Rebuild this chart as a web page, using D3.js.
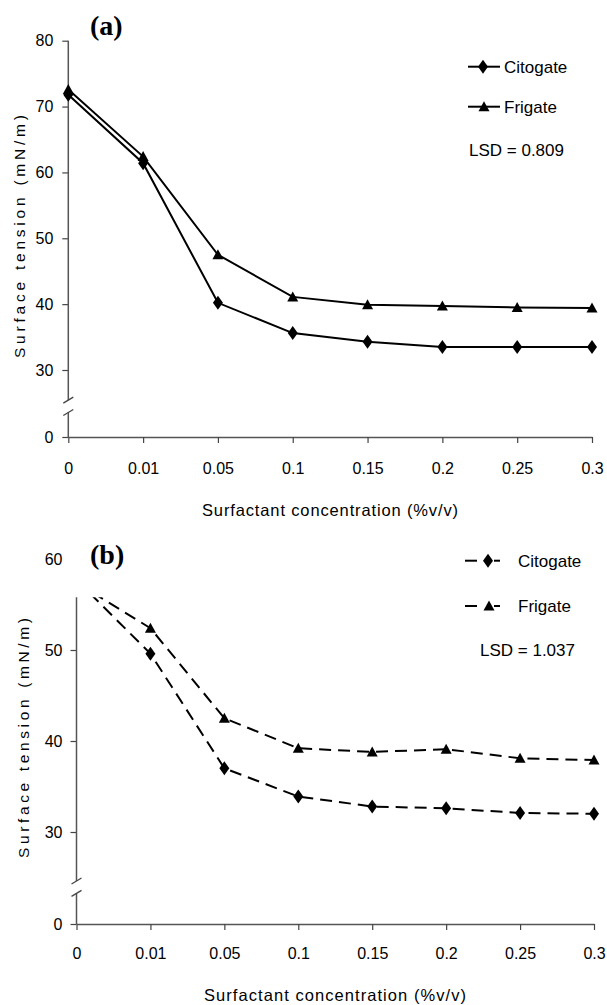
<!DOCTYPE html>
<html>
<head>
<meta charset="utf-8">
<script src="https://cdn.jsdelivr.net/npm/d3@7"></script>
<style>
  body { margin: 0; background: #fff; }
  svg { display: block; }
  text { font-family: Arial, "Liberation Sans", sans-serif; fill: #000; }
</style>
</head>
<body>
<svg id="chart" width="607" height="1005"></svg>
<script>
// x categories (surfactant concentration, % v/v)
const xLabels = ["0", "0.01", "0.05", "0.1", "0.15", "0.2", "0.25", "0.3"];

// surface tension (mN/m), panel (a)
const citogateA = [71.8, 61.4, 40.2, 35.6, 34.3, 33.5, 33.5, 33.5];
const frigateA = [72.6, 62.4, 47.5, 41.1, 39.9, 39.7, 39.5, 39.4];

// surface tension (mN/m), panel (b)
const citogateB = [57.7, 49.6, 37.0, 33.9, 32.8, 32.6, 32.1, 32.0];
const frigateB = [57.4, 52.4, 42.5, 39.2, 38.8, 39.1, 38.1, 37.9];

// y tick labels
const yTicksA = [0, 30, 40, 50, 60, 70, 80];
const yTicksB = [0, 30, 40, 50, 60];

const seriesNames = ["Citogate", "Frigate"];

const svg = d3.select("#chart");

// custom marker shapes: tall diamond and triangle
const diamond = "M0,-7L5,0L0,7L-5,0Z";
const triangle = "M0,-5.5L5.5,4.5L-5.5,4.5Z";

function drawPanel(cfg) {
    const g = svg.append("g");

    const x = d3.scalePoint().domain(xLabels).range([cfg.x0, cfg.x1]);
    // broken axis: 0..30 squeezed into one interval
    const y = d3.scaleLinear().domain(cfg.yDomain).range(cfg.yRange);

    // y axis
    const yAxis = d3.axisLeft(y)
        .tickValues(cfg.yTicks)
        .tickFormat(d3.format("d"))
        .tickSize(6)
        .tickPadding(cfg.yPad);
    const ya = g.append("g")
        .attr("transform", `translate(${cfg.x0},0)`)
        .call(yAxis);
    ya.select(".domain").remove();
    ya.selectAll("line").attr("stroke", "#444").attr("stroke-width", 1.2);
    ya.selectAll("text").style("font-size", "16px");
    ya.selectAll(".tick").filter(d => d > cfg.axisTop).select("line").remove();

    g.append("line")
        .attr("x1", cfg.x0).attr("x2", cfg.x0)
        .attr("y1", y(0)).attr("y2", y(cfg.axisTop))
        .attr("stroke", "#555").attr("stroke-width", 1.5);

    // axis break
    const b0 = y(cfg.breakVals[0]), b1 = y(cfg.breakVals[1]);
    g.append("rect")
        .attr("x", cfg.x0 - 3).attr("y", b1).attr("width", 6).attr("height", b0 - b1)
        .attr("fill", "#fff");
    cfg.breakVals.forEach(v => {
        g.append("line")
            .attr("x1", cfg.x0 - 5).attr("y1", y(v) + 3)
            .attr("x2", cfg.x0 + 5).attr("y2", y(v) - 3)
            .attr("stroke", "#444").attr("stroke-width", 1.3);
    });

    // x axis
    const xAxis = d3.axisBottom(x).tickSize(6).tickSizeOuter(0).tickPadding(cfg.xPad);
    const xa = g.append("g")
        .attr("transform", `translate(0,${y(0)})`)
        .call(xAxis);
    xa.select(".domain").attr("stroke", "#555").attr("stroke-width", 1.5);
    xa.selectAll("line").attr("stroke", "#444").attr("stroke-width", 1.2);
    xa.selectAll("text").style("font-size", "16px");

    // clip for the plot area
    const clipId = "clip" + cfg.id;
    svg.append("clipPath").attr("id", clipId)
        .append("rect")
        .attr("x", 0).attr("y", y(cfg.axisTop))
        .attr("width", 607).attr("height", y(0) - y(cfg.axisTop) + 20);

    const line = d3.line()
        .x((d, i) => x(xLabels[i]))
        .y(d => y(d));

    const plot = g.append("g").attr("clip-path", `url(#${clipId})`);
    const series = [
        { values: cfg.citogate, shape: diamond },
        { values: cfg.frigate, shape: triangle }
    ];
    series.forEach(s => {
        plot.append("path")
            .datum(s.values)
            .attr("d", line)
            .attr("fill", "none")
            .attr("stroke", "#000")
            .attr("stroke-width", 2)
            .attr("stroke-dasharray", cfg.dashed ? "12,7" : null);
        plot.selectAll(null)
            .data(s.values)
            .enter()
            .append("path")
            .attr("d", s.shape)
            .attr("transform", (d, i) => `translate(${x(xLabels[i])},${y(d)})`)
            .attr("fill", "#000");
    });

    // panel title
    g.append("text")
        .attr("x", cfg.titleX).attr("y", cfg.titleY)
        .style("font-family", "'Liberation Serif', 'Times New Roman', serif")
        .style("font-weight", "bold")
        .style("font-size", "28px")
        .text(cfg.title);

    // legend
    seriesNames.forEach((name, i) => {
        const ly = cfg.legendY[i];
        cfg.legendSegs.forEach(seg => {
            g.append("line")
                .attr("x1", seg[0]).attr("x2", seg[1])
                .attr("y1", ly).attr("y2", ly)
                .attr("stroke", "#000").attr("stroke-width", 2);
        });
        g.append("path")
            .attr("d", i === 0 ? diamond : triangle)
            .attr("transform", `translate(${cfg.legendMarkX[i]},${ly})`)
            .attr("fill", "#000");
        g.append("text")
            .attr("x", cfg.legendTextX).attr("y", ly + 6)
            .style("font-size", "17px")
            .text(name);
    });
    g.append("text")
        .attr("x", cfg.lsdX).attr("y", cfg.lsdY + 6)
        .style("font-size", "17px")
        .text(cfg.lsd);

    // axis titles
    g.append("text")
        .attr("x", cfg.xTitleX).attr("y", cfg.xTitleY)
        .attr("text-anchor", "middle")
        .attr("textLength", cfg.xTitleLen)
        .attr("lengthAdjust", "spacing")
        .style("font-size", "16.5px")
        .text("Surfactant concentration (%v/v)");
    g.append("text")
        .attr("transform", `translate(${cfg.yTitleX},${cfg.yTitleY}) rotate(-90)`)
        .attr("text-anchor", "middle")
        .attr("textLength", cfg.yTitleLen)
        .attr("lengthAdjust", "spacing")
        .style("font-size", "15.5px")
        .text("Surface tension (mN/m)");
}

drawPanel({
    id: "a", title: "(a)", titleX: 90, titleY: 35,
    x0: 68.3, x1: 592,
    yDomain: [0, 30, 80], yRange: [437, 370, 40.7],
    yTicks: yTicksA, axisTop: 80, yPad: 9, xPad: 20,
    breakVals: [11, 16.5], dashed: false,
    citogate: citogateA, frigate: frigateA,
    legendY: [66.7, 106.7], legendSegs: [[468, 500]], legendMarkX: [483, 484],
    legendTextX: 504, lsd: "LSD = 0.809", lsdX: 469, lsdY: 150,
    xTitleX: 330, xTitleY: 516, xTitleLen: 256,
    yTitleX: 25, yTitleY: 236.5, yTitleLen: 243
});

drawPanel({
    id: "b", title: "(b)", titleX: 90, titleY: 564,
    x0: 76.5, x1: 594,
    yDomain: [0, 30, 60], yRange: [924, 832, 559],
    yTicks: yTicksB, axisTop: 55.8, yPad: 8, xPad: 18,
    breakVals: [10, 14], dashed: true,
    citogate: citogateB, frigate: frigateB,
    legendY: [560.7, 606], legendSegs: [[465, 477], [494, 500]], legendMarkX: [488, 489],
    legendTextX: 518, lsd: "LSD = 1.037", lsdX: 480, lsdY: 650,
    xTitleX: 335, xTitleY: 1001, xTitleLen: 262,
    yTitleX: 29, yTitleY: 738, yTitleLen: 240
});
</script>
</body>
</html>
